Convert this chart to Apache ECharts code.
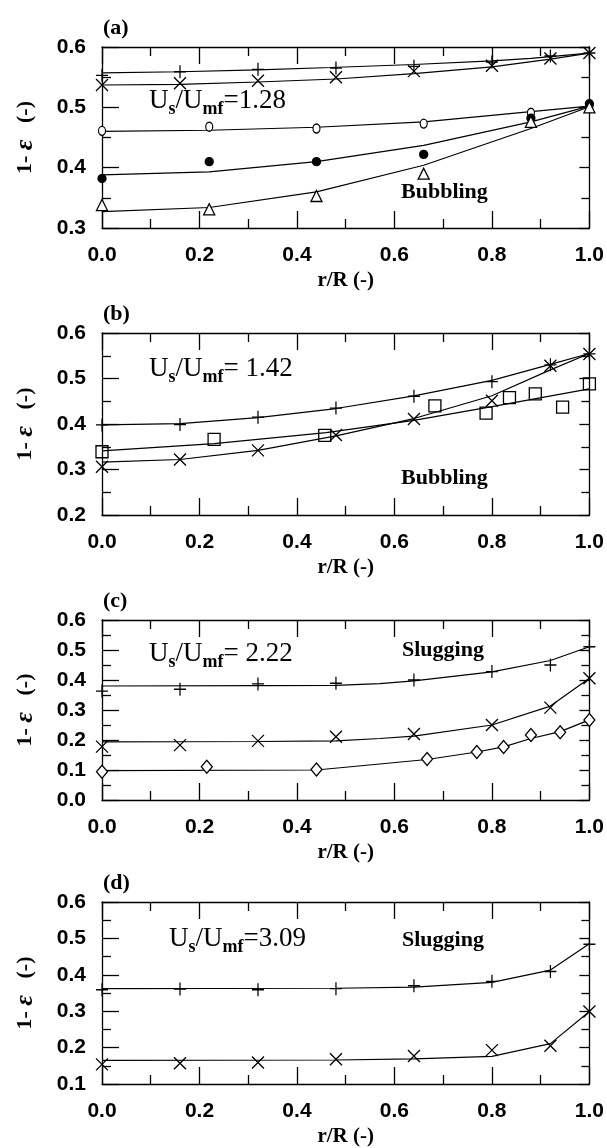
<!DOCTYPE html>
<html>
<head>
<meta charset="utf-8">
<script src="https://cdn.jsdelivr.net/npm/echarts/dist/echarts.min.js"></script>
<style>
html,body{margin:0;padding:0;background:#fff;}
#chart{width:607px;height:1148px;}
</style>
</head>
<body>
<div id="chart"></div>
<script>
// ---------- DATA ----------
const xTicksLabels = ['0.0', '0.2', '0.4', '0.6', '0.8', '1.0'];
const xRad = [0, 0.16, 0.32, 0.48, 0.64, 0.8, 0.92, 1.0];
const xA = [0, 0.22, 0.44, 0.66, 0.88, 1.0];

// panel (a)  Us/Umf = 1.28
const aPlus   = [0.553, 0.559, 0.563, 0.565, 0.568, 0.575, 0.585, 0.590];
const aCross  = [0.537, 0.540, 0.544, 0.550, 0.560, 0.569, 0.581, 0.590];
const aOpen   = [0.461, 0.468, 0.465, 0.473, 0.491, 0.502];
const aFilled = [0.382, 0.410, 0.410, 0.422, 0.482, 0.506];
const aTri    = [0.338, 0.331, 0.353, 0.390, 0.476, 0.500];
const aPlusFit   = [[0, 0.557], [0.16, 0.559], [0.32, 0.562], [0.47, 0.566], [0.64, 0.571], [0.8, 0.577], [0.88, 0.581], [1.0, 0.590]];
const aCrossFit  = [[0, 0.537], [0.16, 0.538], [0.32, 0.542], [0.48, 0.547], [0.64, 0.556], [0.8, 0.567], [0.92, 0.580], [1.0, 0.590]];
const aOpenFit   = [[0, 0.460], [0.22, 0.462], [0.44, 0.467], [0.66, 0.476], [0.88, 0.493], [1.0, 0.502]];
const aFilledFit = [[0, 0.388], [0.22, 0.393], [0.44, 0.410], [0.66, 0.437], [0.88, 0.476], [1.0, 0.502]];
const aTriFit    = [[0, 0.327], [0.22, 0.334], [0.44, 0.360], [0.66, 0.404], [0.88, 0.465], [1.0, 0.501]];

// panel (b)  Us/Umf = 1.42
const bPlus  = [0.398, 0.399, 0.415, 0.435, 0.461, 0.493, 0.530, 0.554];
const bCross = [0.306, 0.322, 0.342, 0.376, 0.411, 0.451, 0.528, 0.554];
const xBsq   = [0, 0.23, 0.457, 0.683, 0.788, 0.836, 0.889, 0.945, 1.0];
const bSq    = [0.339, 0.366, 0.375, 0.440, 0.424, 0.458, 0.466, 0.437, 0.488];
const bPlusFit  = [[0, 0.398], [0.16, 0.401], [0.32, 0.414], [0.48, 0.434], [0.64, 0.462], [0.8, 0.496], [0.92, 0.531], [1.0, 0.555]];
const bCrossFit = [[0, 0.316], [0.16, 0.322], [0.32, 0.342], [0.48, 0.374], [0.64, 0.412], [0.8, 0.462], [0.92, 0.519], [1.0, 0.555]];
const bSqFit    = [[0, 0.341], [0.23, 0.357], [0.46, 0.381], [0.64, 0.408], [0.8, 0.438], [1.0, 0.477]];

// panel (c)  Us/Umf = 2.22
const cPlus  = [0.363, 0.369, 0.387, 0.389, 0.400, 0.428, 0.450, 0.511];
const cCross = [0.178, 0.183, 0.197, 0.211, 0.220, 0.250, 0.308, 0.406];
const xCdia  = [0, 0.215, 0.44, 0.667, 0.769, 0.824, 0.88, 0.94, 1.0];
const cDia   = [0.094, 0.111, 0.102, 0.137, 0.160, 0.177, 0.217, 0.226, 0.267];
const cPlusFit  = [[0, 0.380], [0.32, 0.381], [0.48, 0.382], [0.57, 0.388], [0.64, 0.397], [0.8, 0.427], [0.92, 0.465], [1.0, 0.511]];
const cCrossFit = [[0, 0.194], [0.32, 0.195], [0.48, 0.197], [0.57, 0.205], [0.64, 0.213], [0.8, 0.250], [0.92, 0.313], [1.0, 0.406]];
const cDiaFit   = [[0, 0.098], [0.44, 0.100], [0.667, 0.135], [0.769, 0.160], [0.824, 0.177], [0.88, 0.205], [0.94, 0.228], [1.0, 0.267]];

// panel (d)  Us/Umf = 3.09
const dPlus  = [0.359, 0.361, 0.359, 0.362, 0.370, 0.382, 0.409, 0.484];
const dCross = [0.154, 0.157, 0.159, 0.168, 0.177, 0.193, 0.205, 0.299];
const dPlusFit  = [[0, 0.362], [0.48, 0.363], [0.64, 0.366], [0.8, 0.379], [0.92, 0.413], [1.0, 0.485]];
const dCrossFit = [[0, 0.165], [0.48, 0.166], [0.64, 0.169], [0.8, 0.176], [0.92, 0.211], [1.0, 0.299]];

const yRanges = [[0.3, 0.6], [0.2, 0.6], [0.0, 0.6], [0.1, 0.6]];
const panelLabels = ['(a)', '(b)', '(c)', '(d)'];
const ratioLabels = ['=1.28', '= 1.42', '= 2.22', '=3.09'];
const regimeLabels = ['Bubbling', 'Bubbling', 'Slugging', 'Slugging'];

// ---------- LAYOUT / STYLE ----------
const GL = 102, GW = 489;
const grids = [{top: 47, height: 181}, {top: 333, height: 182}, {top: 620, height: 180}, {top: 902, height: 184}];
const SERIF = 'Liberation Serif';
const SANS = 'Liberation Sans';
const BLK = '#000';
const AX_W = 1.3;

const PLUS = 'path://M0,-6L0,6M-6,0L6,0';
const CROSS = 'path://M-6,-6L6,6M-6,6L6,-6';

const pair = (xs, ys) => xs.map((x, i) => [x, ys[i]]);

const chart = echarts.init(document.getElementById('chart'), null, {renderer: 'canvas'});

const xAxis = [], yAxis = [], series = [];
grids.forEach((g, gi) => {
  xAxis.push({
    gridIndex: gi, type: 'value', min: 0, max: 1, interval: 0.2, position: 'bottom',
    axisLine: {show: true, onZero: false, lineStyle: {color: BLK, width: AX_W}},
    axisTick: {show: true, inside: true, length: 17, lineStyle: {color: BLK, width: AX_W}},
    minorTick: {show: true, splitNumber: 2, length: 9, lineStyle: {color: BLK, width: AX_W}},
    splitLine: {show: false}, minorSplitLine: {show: false},
    axisLabel: {show: true, margin: 17, color: BLK, fontFamily: SANS, fontWeight: 'bold', fontSize: 21,
      formatter: v => xTicksLabels[Math.round(v / 0.2)]},
    name: 'r/R (-)', nameLocation: 'middle', nameGap: 42,
    nameTextStyle: {color: BLK, fontFamily: SERIF, fontWeight: 'bold', fontSize: 21}
  });
  xAxis.push({
    gridIndex: gi, type: 'value', min: 0, max: 1, interval: 0.2, position: 'top',
    axisLine: {show: true, onZero: false, lineStyle: {color: BLK, width: AX_W}},
    axisTick: {show: true, inside: true, length: 17, lineStyle: {color: BLK, width: AX_W}},
    minorTick: {show: true, splitNumber: 2, length: 9, lineStyle: {color: BLK, width: AX_W}},
    splitLine: {show: false}, axisLabel: {show: false}
  });
  const r = yRanges[gi];
  yAxis.push({
    gridIndex: gi, type: 'value', min: r[0], max: r[1], interval: 0.1, position: 'left',
    axisLine: {show: true, onZero: false, lineStyle: {color: BLK, width: AX_W}},
    axisTick: {show: true, inside: true, length: 17, lineStyle: {color: BLK, width: AX_W}},
    minorTick: {show: true, splitNumber: 2, length: 9, lineStyle: {color: BLK, width: AX_W}},
    splitLine: {show: false}, minorSplitLine: {show: false},
    axisLabel: {show: true, margin: 16, color: BLK, fontFamily: SANS, fontWeight: 'bold', fontSize: 21,
      formatter: v => v.toFixed(1)},
    name: '1- {e|ε}   (-)', nameLocation: 'middle', nameGap: 64, nameRotate: 90,
    nameTextStyle: {color: BLK, fontFamily: SERIF, fontWeight: 'bold', fontSize: 22,
      rich: {e: {fontFamily: SERIF, fontStyle: 'italic', fontSize: 26, color: BLK}}}
  });
  yAxis.push({
    gridIndex: gi, type: 'value', min: r[0], max: r[1], interval: 0.1, position: 'right',
    axisLine: {show: true, onZero: false, lineStyle: {color: BLK, width: AX_W}},
    axisTick: {show: true, inside: true, length: 10, lineStyle: {color: BLK, width: AX_W}},
    minorTick: {show: true, splitNumber: 2, length: 8, lineStyle: {color: BLK, width: AX_W}},
    splitLine: {show: false}, axisLabel: {show: false}
  });
});

function fit(gi, data) {
  series.push({type: 'line', xAxisIndex: gi * 2, yAxisIndex: gi * 2, data: data,
    showSymbol: false, symbol: 'none', smooth: false, z: 2,
    lineStyle: {color: BLK, width: 1.2}, silent: true});
}
function pts(gi, data, symbol, size, fill) {
  series.push({type: 'scatter', xAxisIndex: gi * 2, yAxisIndex: gi * 2, data: data,
    symbol: symbol, symbolSize: size, z: 3, silent: true,
    itemStyle: {color: fill, borderColor: BLK, borderWidth: 1.3, opacity: 1}});
}

// (a)
fit(0, aPlusFit); fit(0, aCrossFit); fit(0, aOpenFit); fit(0, aFilledFit); fit(0, aTriFit);
pts(0, pair(xRad, aPlus), PLUS, [12, 13], 'transparent');
pts(0, pair(xRad, aCross), CROSS, 12, 'transparent');
pts(0, pair(xA, aOpen), 'circle', [7, 9], '#fff');
pts(0, pair(xA, aFilled), 'circle', 8, BLK);
pts(0, pair(xA, aTri), 'triangle', 11, '#fff');
// (b)
fit(1, bPlusFit); fit(1, bCrossFit); fit(1, bSqFit);
pts(1, pair(xRad, bPlus), PLUS, [12, 13], 'transparent');
pts(1, pair(xRad, bCross), CROSS, 12, 'transparent');
pts(1, pair(xBsq, bSq), 'rect', 12, 'transparent');
// (c)
fit(2, cPlusFit); fit(2, cCrossFit); fit(2, cDiaFit);
pts(2, pair(xRad, cPlus), PLUS, [12, 13], 'transparent');
pts(2, pair(xRad, cCross), CROSS, 12, 'transparent');
pts(2, pair(xCdia, cDia), 'diamond', [11, 13], '#fff');
// (d)
fit(3, dPlusFit); fit(3, dCrossFit);
pts(3, pair(xRad, dPlus), PLUS, [12, 13], 'transparent');
pts(3, pair(xRad, dCross), CROSS, 12, 'transparent');

// annotations
const uPos = [[149, 87], [149, 355], [149, 640], [169, 925]];
const regPos = [[401, 181], [401, 467], [402, 639], [402, 929]];
const graphic = [];
grids.forEach((g, gi) => {
  graphic.push({type: 'text', left: 103, top: g.top - 30,
    style: {text: panelLabels[gi], fill: BLK, font: 'bold 22px "' + SERIF + '"'}});
  graphic.push({type: 'text', x: uPos[gi][0], y: uPos[gi][1],
    style: {text: '{m|U}{s|s}{m|/U}{s|mf}{m|' + ratioLabels[gi] + '}', verticalAlign: 'top',
      rich: {
        m: {fill: BLK, fontFamily: SERIF, fontSize: 27, lineHeight: 30, verticalAlign: 'top'},
        s: {fill: BLK, fontFamily: SERIF, fontWeight: 'bold', fontSize: 18, lineHeight: 31, verticalAlign: 'bottom'}
      }}});
  graphic.push({type: 'text', x: regPos[gi][0], y: regPos[gi][1],
    style: {text: regimeLabels[gi], fill: BLK, font: 'bold 22px "' + SERIF + '"', verticalAlign: 'top'}});
});

chart.setOption({
  animation: false,
  backgroundColor: '#fff',
  grid: grids.map(g => ({left: GL, width: GW, top: g.top, height: g.height, containLabel: false})),
  xAxis: xAxis,
  yAxis: yAxis,
  series: series,
  graphic: graphic
});
</script>
</body>
</html>
